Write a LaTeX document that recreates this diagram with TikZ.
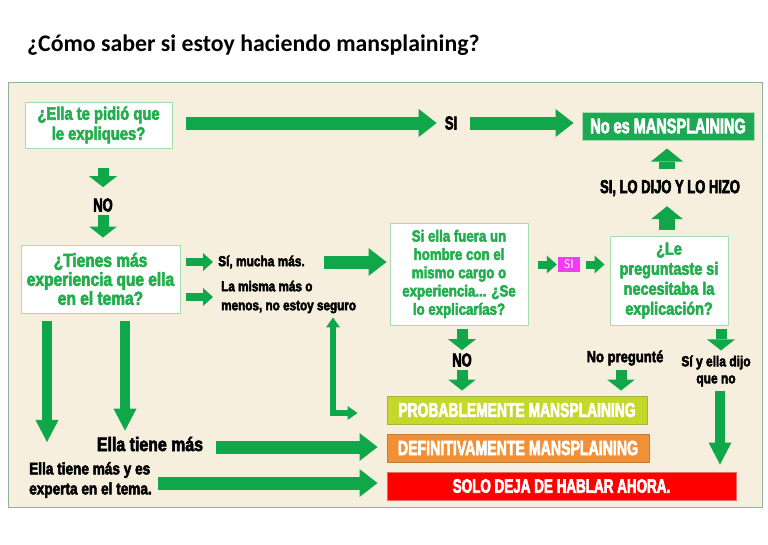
\documentclass[tikz,border=0pt]{standalone}
\usepackage{fontspec}
\setmainfont{Carlito}
\newfontfamily\impact[UprightFont={* Bold},FakeStretch=0.82,FakeBold=3]{Liberation Sans}
\newfontfamily\impactN[UprightFont={* Bold},FakeStretch=0.69,FakeBold=3]{Liberation Sans}
\usetikzlibrary{positioning, arrows.meta}
\definecolor{bgPanel}{HTML}{F6EFDE}
\definecolor{panelLine}{HTML}{8FB39A}
\definecolor{boxLine}{HTML}{A9DBB3}
\definecolor{txtGreen}{HTML}{22AE4C}
\definecolor{arrGreen}{HTML}{10A64A}
\definecolor{okGreen}{HTML}{1DA954}
\definecolor{probFill}{HTML}{C3D82A}
\definecolor{probLine}{HTML}{9DB83A}
\definecolor{defFill}{HTML}{F29037}
\definecolor{defLine}{HTML}{C77A34}
\definecolor{soloFill}{HTML}{FF0000}
\definecolor{soloLine}{HTML}{E86A6A}
\definecolor{siPink}{HTML}{F23BF2}

\begin{document}
\begin{tikzpicture}[
  x=1pt, y=-1pt,
  qbox/.style={draw=boxLine, line width=1pt, fill=white, text=txtGreen,
    align=center, inner sep=0pt, font=\impact},
  res/.style={line width=1pt, text=white, inner sep=0pt, minimum height=28pt,
    font=\impactN\fontsize{20.5}{20}\selectfont},
  lbl/.style={inner sep=1pt, font=\impactN\fontsize{18.8}{19}\selectfont},
  small/.style={inner sep=1pt, align=left, font=\impact\fontsize{14.5}{19}\selectfont},
  blk/.style={draw=arrGreen, line width=13pt,
    -{Triangle[width=28pt,length=18pt,line width=0pt]}},
  blkDown/.style={draw=arrGreen, line width=11pt,
    -{Triangle[width=28pt,length=11pt,line width=0pt]}},
  blkUp/.style={draw=arrGreen, line width=16pt,
    -{Triangle[width=32pt,length=13pt,line width=0pt]}},
  blkSm/.style={draw=arrGreen, line width=8pt,
    -{Triangle[width=18pt,length=10pt,line width=0pt]}},
  blkLong/.style={draw=arrGreen, line width=10pt,
    -{Triangle[width=23pt,length=22pt,line width=0pt]}},
  blkL/.style={draw=arrGreen, line width=6pt,
    {Triangle[width=14pt,length=10pt,line width=0pt]}-{Triangle[width=14pt,length=10pt,line width=0pt]}}
]
  \useasboundingbox (0,0) rectangle (768,544);

  %% --- titolo e pannello ---
  \node[anchor=west, inner sep=0pt, font=\bfseries\fontsize{23.8}{28}\selectfont]
    (title) at (27,45) {¿Cómo saber si estoy haciendo mansplaining?};
  \draw[panelLine, fill=bgPanel, line width=1pt] (8,82) rectangle (762,507);

  %% --- domande ---
  \node[qbox, minimum width=147pt, minimum height=46pt,
    font=\impact\fontsize{18}{20}\selectfont] (pidio) at (98.5,125)
    {¿Ella te pidió que\\le expliques?};
  \node[qbox, minimum width=159pt, minimum height=68pt,
    font=\impact\fontsize{18.9}{19}\selectfont] (tienes) at (100.5,279)
    {¿Tienes más\\experiencia que ella\\en el tema?};
  \node[qbox, minimum width=138pt, minimum height=102pt,
    font=\impact\fontsize{16.2}{18.3}\selectfont] (hombre) at (459,274)
    {Si ella fuera un\\hombre con el\\mismo cargo o\\experiencia... ¿Se\\lo explicarías?};
  \node[qbox, minimum width=118pt, minimum height=89pt,
    font=\impact\fontsize{17.6}{20}\selectfont] (pregunta) at (669,280.5)
    {¿Le\\preguntaste si\\necesitaba la\\explicación?};

  %% --- risposte ---
  \node[lbl] (si) at (451,123) {SI};
  \node[lbl] (no) at (103,205) {NO};
  \node[lbl] (dijo) at (670,188) {SI, LO DIJO Y LO HIZO};
  \node[lbl] (noB) at (462,360) {NO};
  \node[small, anchor=west] (mucha) at (217,262) {Sí, mucha más.};
  \node[small, anchor=west, font=\impact\fontsize{14.3}{19}\selectfont] (misma) at (220,297)
    {La misma más o\\menos, no estoy seguro};
  \node[small, font=\impact\fontsize{15.9}{16}\selectfont] (nopreg) at (625,358) {No pregunté};
  \node[small, align=center, font=\impact\fontsize{14.6}{17}\selectfont] (ellaNo) at (716,371)
    {Sí y ella dijo\\que no};
  \node[lbl, font=\impact\fontsize{19.4}{22}\selectfont] (tieneMas) at (150,444) {Ella tiene más};
  \node[small, anchor=west, font=\impact\fontsize{16.6}{20}\selectfont] (experta) at (28,480)
    {Ella tiene más y es\\experta en el tema.};
  \node[fill=siPink, text=white, inner sep=0pt, minimum width=22pt, minimum height=15pt,
    font=\fontsize{13.5}{14}\selectfont] (siRosa) at (569,264.5) {SI};

  %% --- esiti ---
  \node[res, fill=okGreen, draw=boxLine, minimum width=172pt,
    font=\impactN\fontsize{21}{20}\selectfont] (noEs) at (668,126)
    {No es MANSPLAINING};
  \node[res, fill=probFill, draw=probLine, minimum width=260pt,
    font=\impactN\fontsize{20.1}{20}\selectfont] (prob) at (517,410)
    {PROBABLEMENTE MANSPLAINING};
  \node[res, fill=defFill, draw=defLine, minimum width=262pt] (defi) at (518,448)
    {DEFINITIVAMENTE MANSPLAINING};
  \node[res, fill=soloFill, draw=soloLine, minimum width=349pt,
    font=\impactN\fontsize{19.5}{20}\selectfont] (solo) at (561.5,486)
    {SOLO DEJA DE HABLAR AHORA.};

  %% --- frecce ---
  \draw[blk, shorten <=13pt, shorten >=7pt] (pidio.east |- si.west) -- (si.west);
  \draw[blk, shorten <=12pt, shorten >=8pt] (si.east) -- (noEs.west |- si.east);
  \draw[blkDown, shorten <=19pt, shorten >=10pt] (pidio.south -| no) -- (no.north);
  \draw[blkDown, shorten <=2pt, shorten >=7pt] (no.south) -- (tienes.north -| no);
  \draw[blkUp, shorten <=10pt, shorten >=8pt] (dijo.north -| 667,0) -- (noEs.south -| 667,0);
  \draw[blkUp, shorten <=6pt, shorten >=9pt] (pregunta.north -| 667,0) -- (dijo.south -| 667,0);
  \draw[blkSm, shorten <=5pt, shorten >=4pt] (tienes.east |- mucha.west) -- (mucha.west);
  \draw[blkSm, shorten <=5pt, shorten >=7pt] (tienes.east |- 0,297) -- (misma.west |- 0,297);
  \draw[blk, shorten <=18pt, shorten >=3pt] (mucha.east) -- (hombre.west |- mucha.east);
  \draw[blkSm, shorten <=9pt, shorten >=1pt] (hombre.east |- siRosa.west) -- (siRosa.west);
  \draw[blkSm, shorten <=6pt, shorten >=5pt] (siRosa.east) -- (pregunta.west |- siRosa.east);
  \coordinate (codo) at (333,413);
  \draw[blkL, shorten <=3pt, shorten >=29pt] (misma.south -| codo) -- (codo) -- (codo -| prob.west);
  \draw[blkLong, shorten <=7pt, shorten >=19pt] (tienes.south -| 47,0) -- (experta.north -| 47,0);
  \draw[blkLong, shorten <=7pt, shorten >=5pt] (tienes.south -| 125,0) -- (tieneMas.north -| 125,0);
  \draw[blk, shorten <=12pt, shorten >=9pt] (tieneMas.east |- 0,447) -- (defi.west |- 0,447);
  \draw[blk, shorten <=5pt, shorten >=9pt] (experta.east |- 0,483) -- (solo.west |- 0,483);
  \draw[blkDown, shorten <=3pt, shorten >=2pt] (hombre.south -| noB) -- (noB.north);
  \draw[blkDown, shorten <=2pt, shorten >=5pt] (noB.south) -- (prob.north -| noB);
  \draw[blkDown, shorten <=3pt, shorten >=5pt] (nopreg.south -| 621,0) -- (prob.north -| 621,0);
  \draw[blkDown, shorten <=3pt, shorten >=4pt] (pregunta.south -| 721,0) -- (ellaNo.north -| 721,0);
  \draw[blkLong, shorten <=3pt, shorten >=7pt] (ellaNo.south -| 720,0) -- (solo.north -| 720,0);
\end{tikzpicture}
\end{document}
